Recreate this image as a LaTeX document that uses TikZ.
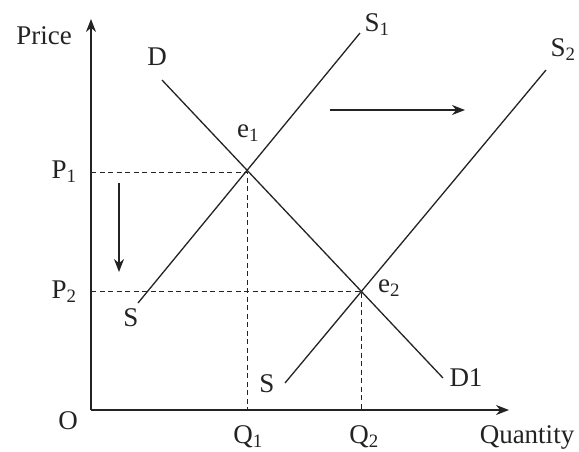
\documentclass[tikz,border=0pt]{standalone}
\usepackage{fontspec}
\setmainfont{Liberation Serif}
\usetikzlibrary{arrows.meta}
\definecolor{ink}{RGB}{35,35,35}
\tikzset{
  axisline/.style={draw=ink,line width=1.4pt,-{Stealth[length=13pt,width=10pt]}},
  curveline/.style={draw=ink,line width=1.3pt},
  guideline/.style={draw=ink,line width=0.8pt,dash pattern=on 5pt off 3.5pt},
  movearrow/.style={draw=ink,line width=1.4pt,-{Stealth[length=13pt,width=10pt]}},
  lbl/.style={inner sep=0pt,outer sep=0pt,text=ink,font=\fontsize{27}{30}\selectfont},
}
\begin{document}
\begin{tikzpicture}[x=1pt,y=-1pt]
\path[use as bounding box] (0,0) rectangle (579,451);
\path[fill=white,draw=none] (0,0) rectangle (579,451);
% axes
\coordinate (origin) at (91,410);
\coordinate (ytop) at (91,19);
\coordinate (xend) at (509,410);
\draw[axisline] (origin) -- (ytop);
\draw[axisline] (origin) -- (xend);
\node[lbl] (price) at (44,36) {Price};
\node[lbl] (quantity) at (527,437) {Quantity};
\node[lbl] (o) at (68,421) {O};
% equilibrium points
\coordinate (e1pt) at (247,172);
\coordinate (e2pt) at (361,291);
\coordinate (p1pt) at (91,172);
\coordinate (p2pt) at (91,291);
\coordinate (q1pt) at (247,410);
\coordinate (q2pt) at (361,410);
% curves
\coordinate (s1lo) at (138,303);
\coordinate (s1hi) at (360,33);
\coordinate (s2lo) at (285,383);
\coordinate (s2hi) at (546,70);
\coordinate (dhi) at (162,80);
\coordinate (dlo) at (443,378);
\draw[curveline] (s1lo) -- (s1hi);
\draw[curveline] (s2lo) -- (s2hi);
\draw[curveline] (dhi) -- (dlo);
% guides
\draw[guideline] (p1pt) -- (e1pt) -- (q1pt);
\draw[guideline] (p2pt) -- (e2pt) -- (q2pt);
% shifts
\coordinate (hstart) at (330,110);
\coordinate (hend) at (465,110);
\coordinate (vstart) at (119,183);
\coordinate (vend) at (119,272);
\draw[movearrow] (hstart) -- (hend);
\draw[movearrow] (vstart) -- (vend);
% labels
\node[lbl] (p1) at (64,172) {P\textsubscript{1}};
\node[lbl] (p2) at (64,292) {P\textsubscript{2}};
\node[lbl] (q1) at (248,437) {Q\textsubscript{1}};
\node[lbl] (q2) at (364,437) {Q\textsubscript{2}};
\node[lbl] (e1) at (248,133) {e\textsubscript{1}};
\node[lbl] (e2) at (389,288) {e\textsubscript{2}};
\node[lbl] (s1) at (377,25) {S\textsubscript{1}};
\node[lbl] (s2) at (563,50) {S\textsubscript{2}};
\node[lbl] (slo) at (131,318) {S};
\node[lbl] (sbot) at (267,384) {S};
\node[lbl] (d) at (157,57) {D};
\node[lbl] (d1) at (466,378) {D1};
\end{tikzpicture}
\end{document}
